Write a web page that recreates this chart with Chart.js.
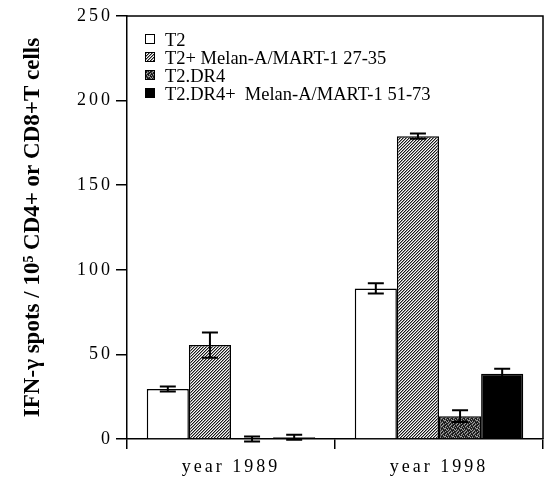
<!DOCTYPE html>
<html>
<head>
<meta charset="utf-8">
<style>
  html, body { margin: 0; padding: 0; background: #fff; }
  #c { display: block; }
</style>
<script src="https://cdn.jsdelivr.net/npm/chart.js@4/dist/chart.umd.min.js"></script>
</head>
<body>
<canvas id="c" width="547" height="477"></canvas>
<script>
// ---- data ----
const categories = ['year 1989', 'year 1998'];
const seriesNames = ['T2', 'T2+ Melan-A/MART-1 27-35', 'T2.DR4', 'T2.DR4+  Melan-A/MART-1 51-73'];
const t2Values      = [29.5, 89];
const t2MelanValues = [55.5, 179];
const dr4Values     = [0, 13.5];
const dr4MelanValues = [1, 38.5];
const t2Errors      = [1.5, 3];
const t2MelanErrors = [7.5, 1.5];
const dr4Errors     = [1.5, 3.5];
const dr4MelanErrors = [1.5, 3];
const yTicks = [0, 50, 100, 150, 200, 250];
const yTitle = 'IFN-\u03b3 spots / 10\u2075 CD4+ or CD8+T cells';

// ---- patterns ----
function hatchPattern() {
  const n = 3, cv = document.createElement('canvas');
  cv.width = n; cv.height = n;
  const cx = cv.getContext('2d');
  const img = cx.createImageData(n, n);
  const tone = [25, 150, 250];
  for (let y = 0; y < n; y++) for (let x = 0; x < n; x++) {
    const v = tone[(x + y) % n];
    const k = (y * n + x) * 4;
    img.data[k] = img.data[k+1] = img.data[k+2] = v; img.data[k+3] = 255;
  }
  cx.putImageData(img, 0, 0);
  return cx.createPattern(cv, 'repeat');
}
function speckPattern() {
  const rows = [
    '20021001',
    '10210020',
    '02100210',
    '01020102',
    '10012200',
    '20101020',
    '01200012',
    '12010200'
  ];
  const n = 8, cv = document.createElement('canvas');
  cv.width = n; cv.height = n;
  const cx = cv.getContext('2d');
  const img = cx.createImageData(n, n);
  const tone = { '0': 25, '1': 85, '2': 160 };
  for (let y = 0; y < n; y++) for (let x = 0; x < n; x++) {
    const v = tone[rows[y][x]];
    const k = (y * n + x) * 4;
    img.data[k] = img.data[k+1] = img.data[k+2] = v; img.data[k+3] = 255;
  }
  cx.putImageData(img, 0, 0);
  return cx.createPattern(cv, 'repeat');
}

const fills = ['#ffffff', hatchPattern(), speckPattern(), '#000000'];
const valueSets = [t2Values, t2MelanValues, dr4Values, dr4MelanValues];
const errorSets = [t2Errors, t2MelanErrors, dr4Errors, dr4MelanErrors];

const datasets = seriesNames.map((name, i) => ({
  label: name,
  data: valueSets[i],
  errors: errorSets[i],
  backgroundColor: fills[i],
  borderColor: '#000',
  borderWidth: 1.5,
  categoryPercentage: 0.81,
  barPercentage: 1.0
}));

// ---- plugins ----
const spacingPlugin = {
  id: 'spacing',
  beforeDraw(chart) {
    Object.values(chart.scales).forEach(s => {
      if (!s._spaced) {
        const orig = s.drawLabels;
        s.drawLabels = function (ca) {
          const c = this.ctx;
          c.save();
          c.letterSpacing = '3px';
          orig.call(this, ca);
          c.restore();
        };
        s._spaced = true;
      }
    });
  }
};

const errorBarPlugin = {
  id: 'errorBars',
  afterDatasetsDraw(chart) {
    const ctx = chart.ctx, y = chart.scales.y;
    ctx.save();
    ctx.strokeStyle = '#000';
    ctx.lineWidth = 2;
    chart.data.datasets.forEach((ds, di) => {
      const meta = chart.getDatasetMeta(di);
      meta.data.forEach((el, j) => {
        const v = ds.data[j], e = ds.errors[j];
        const x = el.x;
        const yt = y.getPixelForValue(v + e), yb = y.getPixelForValue(v - e);
        const hw = 8;
        ctx.beginPath();
        ctx.moveTo(x, yt); ctx.lineTo(x, yb);
        ctx.moveTo(x - hw, yt); ctx.lineTo(x + hw, yt);
        ctx.moveTo(x - hw, yb); ctx.lineTo(x + hw, yb);
        ctx.stroke();
      });
    });
    ctx.restore();
  }
};

const framePlugin = {
  id: 'frameLegend',
  afterDraw(chart) {
    const { ctx, chartArea: a } = chart;
    ctx.save();
    ctx.strokeStyle = '#000';
    ctx.lineWidth = 1.5;
    ctx.beginPath();
    ctx.moveTo(a.left, a.top); ctx.lineTo(a.right, a.top); ctx.lineTo(a.right, a.bottom);
    ctx.stroke();
    // legend
    ctx.font = '18.5px "Liberation Serif"';
    ctx.textBaseline = 'middle';
    ctx.textAlign = 'left';
    ctx.lineWidth = 1;
    chart.data.datasets.forEach((ds, i) => {
      const cy = a.top + 24 + i * 18;
      const mx = a.left + 18;
      ctx.fillStyle = ds.backgroundColor;
      ctx.fillRect(mx, cy - 6, 10, 10);
      ctx.strokeRect(mx + 0.5, cy - 5.5, 9, 9);
      ctx.fillStyle = '#000';
      ctx.fillText(ds.label, a.left + 38, cy + 1);
    });
    ctx.restore();
  }
};

new Chart(document.getElementById('c'), {
  type: 'bar',
  data: { labels: categories, datasets },
  plugins: [spacingPlugin, errorBarPlugin, framePlugin],
  options: {
    responsive: false,
    devicePixelRatio: 1,
    animation: false,
    layout: { padding: { top: 16, right: 4, left: 0, bottom: 0 } },
    plugins: { legend: { display: false }, tooltip: { enabled: false } },
    scales: {
      x: {
        grid: { offset: true, drawOnChartArea: false, tickLength: 10, color: '#000', lineWidth: 1.5 },
        border: { color: '#000', width: 1.5 },
        ticks: { color: '#000', font: { family: 'Liberation Serif', size: 18 }, padding: 7 },
        afterFit(s) { s.height = 38; }
      },
      y: {
        min: 0, max: 250,
        afterBuildTicks(s) { s.ticks = yTicks.map(v => ({ value: v })); },
        grid: { drawOnChartArea: false, tickLength: 11, color: '#000', lineWidth: 1.5 },
        border: { color: '#000', width: 1.5 },
        ticks: { color: '#000', font: { family: 'Liberation Serif', size: 18 }, padding: 3 },
        title: {
          display: true, text: yTitle, color: '#000',
          font: { family: 'Liberation Serif', size: 23, weight: 'bold' },
          padding: { top: 19, bottom: 0 }
        },
        afterFit(s) { s.width = 127; }
      }
    }
  }
});
</script>
</body>
</html>
